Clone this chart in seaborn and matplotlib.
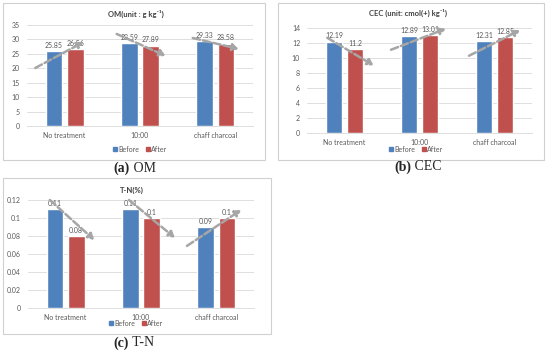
#!/usr/bin/env python3

import pandas
import seaborn as sns
import matplotlib.pyplot as plt
from matplotlib.lines import Line2D
from matplotlib.patches import Rectangle

# values
categories = ["No treatment", "10:00", "chaff charcoal"]
om_before = [25.85, 28.59, 29.33]
om_after = [26.56, 27.89, 28.58]
cec_before = [12.19, 12.89, 12.31]
cec_after = [11.2, 13.01, 12.85]
tn_before = [0.11, 0.11, 0.09]
tn_after = [0.08, 0.1, 0.1]

# dashed trend arrows: (category, dx start, y start, dx end, y end)
om_arrows = [(0, -0.39, 20.1, 0.25, 29.1), (1, -0.31, 31.9, 0.34, 24.3), (2, -0.30, 30.5, 0.31, 26.7)]
cec_arrows = [(0, -0.23, 12.7, 0.39, 9.0), (1, -0.38, 11.1, 0.35, 13.9), (2, -0.34, 10.3, 0.34, 13.7)]
tn_arrows = [(0, -0.21, 0.12, 0.38, 0.0756), (1, -0.16, 0.12, 0.45, 0.078), (2, -0.39, 0.069, 0.33, 0.109)]

W, H = 550, 352
BLUE = "#4F81BD"
RED = "#C0504D"
GREY_TXT = "#595959"

sns.set_style("white")
plt.rcParams["font.family"] = ["Lato", "DejaVu Sans"]


def px(x0, y_top, x1, y_bot):
    """pixel box -> figure fraction rect"""
    return [x0 / W, 1 - y_bot / H, (x1 - x0) / W, (y_bot - y_top) / H]


def make_df(before, after):
    rows = []
    for c, b, a in zip(categories, before, after):
        rows.append({"cat": c, "when": "Before", "value": b})
        rows.append({"cat": c, "when": "After", "value": a})
    return pandas.DataFrame(rows)


def panel(fig, rect, before, after, ymax, ystep, fmt, arrows, title, title_xy, legend_xy):
    ax = fig.add_axes(rect)
    df = make_df(before, after)
    sns.barplot(data=df, x="cat", y="value", hue="when", palette=[BLUE, RED],
                width=0.56, gap=0.21, ax=ax, legend=False, saturation=1)
    ax.set_xlim(-0.5, 2.5)
    ax.set_ylim(0, ymax)
    ticks = [i * ystep for i in range(int(round(ymax / ystep)) + 1)]
    ax.set_yticks(ticks)
    ax.set_yticklabels([fmt(t) for t in ticks])
    ax.tick_params(axis="both", length=0, labelsize=5, colors=GREY_TXT)
    ax.tick_params(axis="y", pad=5)
    ax.tick_params(axis="x", pad=4)
    ax.set_xlabel("")
    ax.set_ylabel("")
    ax.grid(axis="y", color="#D9D9D9", lw=0.6)
    ax.set_axisbelow(True)
    for s in ["left", "right", "top"]:
        ax.spines[s].set_visible(False)
    ax.spines["bottom"].set_color("#D9D9D9")
    ax.spines["bottom"].set_linewidth(0.6)
    for cont in ax.containers:
        ax.bar_label(cont, labels=[f"{v:g}" for v in cont.datavalues],
                     padding=1.5, fontsize=5, color=GREY_TXT)
    for c, dx0, y0, dx1, y1 in arrows:
        ax.annotate("", xy=(c + dx1, y1), xytext=(c + dx0, y0),
                    arrowprops=dict(arrowstyle="-|>,head_length=0.35,head_width=0.2",
                                    color="#A6A6A6", lw=1.8, linestyle=(0, (3, 1.2)),
                                    shrinkA=0, shrinkB=0),
                    annotation_clip=False)
    fig.text(title_xy[0] / W, 1 - title_xy[1] / H, title, ha="center", va="center",
             fontsize=5.5, fontweight="bold", color="#404040")
    handles = [Line2D([], [], marker="s", ls="", color=BLUE, markersize=3),
               Line2D([], [], marker="s", ls="", color=RED, markersize=3)]
    leg = fig.legend(handles, ["Before", "After"], loc="center", ncol=2, frameon=False,
                     bbox_to_anchor=(legend_xy[0] / W, 1 - legend_xy[1] / H),
                     fontsize=5, handletextpad=0.1, columnspacing=0.8, handlelength=0.8)
    for t in leg.get_texts():
        t.set_color(GREY_TXT)
    return ax


def caption(fig, x, y, tag, name):
    fig.text(x / W, 1 - y / H, tag, ha="right", va="center", fontsize=10,
             fontweight="bold", family="Liberation Serif")
    fig.text(x / W, 1 - y / H, " " + name, ha="left", va="center", fontsize=10,
             family="Liberation Serif")


def main():
    fig = plt.figure(figsize=(W / 100, H / 100), dpi=100)

    # panel frames
    for x0, y0, x1, y1 in [(3, 3, 265, 160), (278, 3, 544, 160), (3, 178, 271, 334)]:
        fig.patches.append(Rectangle((x0 / W, 1 - y1 / H), (x1 - x0) / W, (y1 - y0) / H,
                                     transform=fig.transFigure, fill=False,
                                     edgecolor="#D0D0D0", lw=0.8))

    panel(fig, px(27, 25, 253, 126), om_before, om_after, 35, 5, lambda t: f"{t:g}",
          om_arrows, "OM(unit : g kg\u207b\u00b9)", (136, 14), (140, 149))
    panel(fig, px(307, 28, 532, 133), cec_before, cec_after, 14, 2, lambda t: f"{t:g}",
          cec_arrows, "CEC (unit: cmol(+) kg\u207b\u00b9)", (408, 13), (416, 149))
    panel(fig, px(28, 200, 254, 308), tn_before, tn_after, 0.12, 0.02,
          lambda t: "0" if t == 0 else f"{t:.2f}".rstrip("0"),
          tn_arrows, "T-N(%)", (132, 190), (136, 323))

    caption(fig, 130, 168, "(a)", "OM")
    caption(fig, 411, 167, "(b)", "CEC")
    caption(fig, 129, 343, "(c)", "T-N")

    fig.savefig("out.png", dpi=100)
    plt.close(fig)


if __name__ == "__main__":
    main()
